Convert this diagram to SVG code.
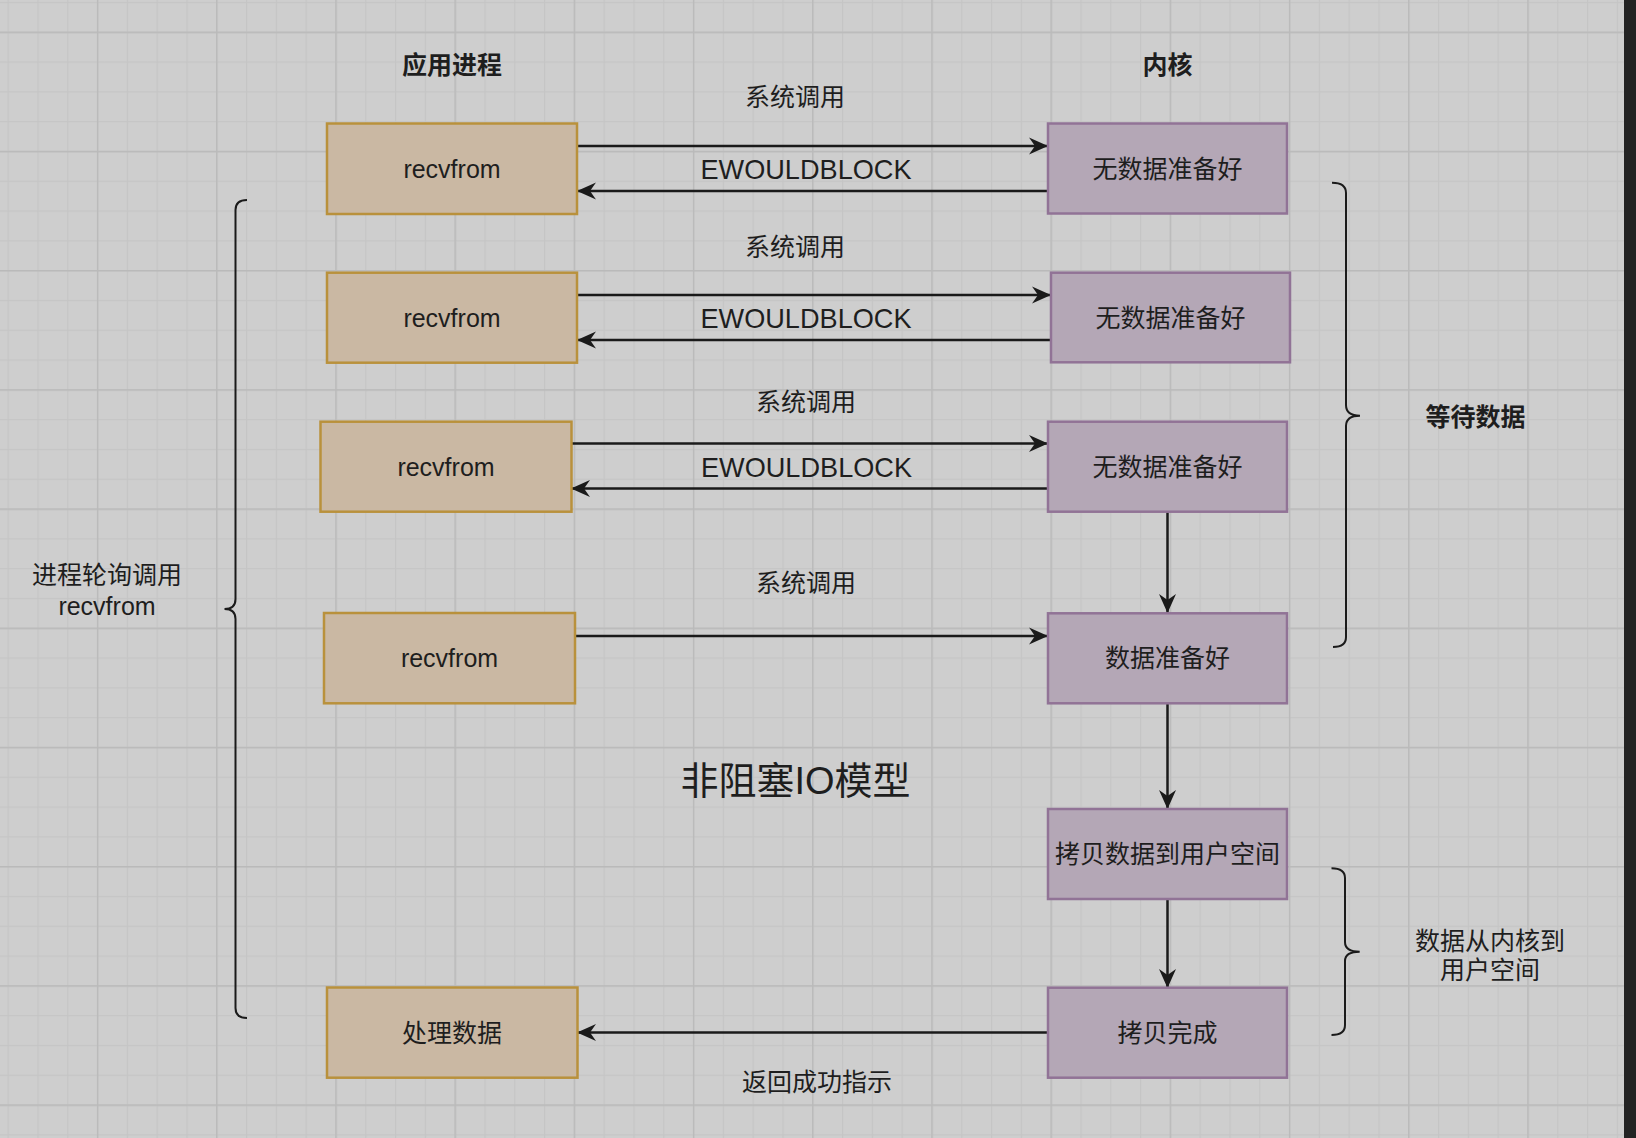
<svg xmlns="http://www.w3.org/2000/svg" width="1636" height="1138" viewBox="0 0 1636 1138">
<defs>
<pattern id="minor" width="29.8" height="29.8" patternUnits="userSpaceOnUse" x="7.6" y="1.9"><path d="M0.6,0 V29.8 M0,0.6 H29.8" stroke="#c5c5c5" stroke-width="1.2" fill="none"/></pattern>
<pattern id="major" width="119.2" height="119.2" patternUnits="userSpaceOnUse" x="96.9" y="31.6"><path d="M0.7,0 V119.2 M0,0.7 H119.2" stroke="#bababa" stroke-width="1.4" fill="none"/></pattern>
<marker id="arr" markerUnits="userSpaceOnUse" markerWidth="20" markerHeight="20" viewBox="0 0 20 20" refX="20" refY="10" orient="auto"><path d="M20,10 L1,1.5 L7,10 L1,18.5 Z" fill="#1a1a1a"/></marker>
<style>
.app rect{fill:#cab8a3;stroke:#b9913c;stroke-width:2.5}
.ker rect{fill:#b4a7b6;stroke:#917396;stroke-width:2.5}
text{font-family:"Liberation Sans","Noto Sans CJK SC",sans-serif;fill:#1e1e1e;text-anchor:middle;dominant-baseline:central}
.n{font-size:25px}
.b{font-size:25px;font-weight:bold}
.e{font-size:28px}
.t{font-size:38px}
.c line{stroke:#1a1a1a;stroke-width:2.5;marker-end:url(#arr)}
.br path{fill:none;stroke:#1a1a1a;stroke-width:2}
</style>
</defs>
<rect width="1636" height="1138" fill="#cecece"/>
<rect width="1636" height="1138" fill="url(#minor)"/>
<rect width="1636" height="1138" fill="url(#major)"/>
<rect x="1624" y="0" width="12" height="1138" fill="#232323"/>

<g id="connectors" class="c">
<line x1="577" y1="146" x2="1048" y2="146"/>
<line x1="1048" y1="191" x2="577" y2="191"/>
<line x1="577" y1="295" x2="1051" y2="295"/>
<line x1="1051" y1="340" x2="577" y2="340"/>
<line x1="571" y1="443.5" x2="1048" y2="443.5"/>
<line x1="1048" y1="488.5" x2="571" y2="488.5"/>
<line x1="575" y1="636" x2="1048" y2="636"/>
<line x1="1048" y1="1032.5" x2="577" y2="1032.5"/>
<line x1="1167.5" y1="511.7" x2="1167.5" y2="613"/>
<line x1="1167.5" y1="703.3" x2="1167.5" y2="809"/>
<line x1="1167.5" y1="899" x2="1167.5" y2="988"/>
</g>

<g id="edge-labels">
<text class="n" x="795" y="97">系统调用</text>
<text class="e" x="806" y="169" textLength="211" lengthAdjust="spacingAndGlyphs">EWOULDBLOCK</text>
<text class="n" x="795" y="246.5">系统调用</text>
<text class="e" x="806" y="318" textLength="211" lengthAdjust="spacingAndGlyphs">EWOULDBLOCK</text>
<text class="n" x="806" y="402">系统调用</text>
<text class="e" x="806.5" y="467" textLength="211" lengthAdjust="spacingAndGlyphs">EWOULDBLOCK</text>
<text class="n" x="806" y="582.5">系统调用</text>
<text class="n" x="817" y="1082">返回成功指示</text>
</g>

<g id="app1" class="app"><rect x="327" y="123.5" width="250" height="90.5"/><text class="n" x="452" y="169">recvfrom</text></g>
<g id="app2" class="app"><rect x="327" y="272.7" width="250" height="90"/><text class="n" x="452" y="318">recvfrom</text></g>
<g id="app3" class="app"><rect x="320.5" y="421.7" width="251" height="90"/><text class="n" x="446" y="467">recvfrom</text></g>
<g id="app4" class="app"><rect x="324" y="613" width="251" height="90.3"/><text class="n" x="449.5" y="658">recvfrom</text></g>
<g id="app5" class="app"><rect x="327" y="987.5" width="250.5" height="90.2"/><text class="n" x="452" y="1032.5">处理数据</text></g>

<g id="k1" class="ker"><rect x="1048" y="123.5" width="239" height="90"/><text class="n" x="1167.5" y="168.5">无数据准备好</text></g>
<g id="k2" class="ker"><rect x="1051" y="272.7" width="239" height="89.6"/><text class="n" x="1170.5" y="317.5">无数据准备好</text></g>
<g id="k3" class="ker"><rect x="1048" y="421.7" width="239" height="90"/><text class="n" x="1167.5" y="466.7">无数据准备好</text></g>
<g id="k4" class="ker"><rect x="1048" y="613.3" width="239" height="90"/><text class="n" x="1167.5" y="658.3">数据准备好</text></g>
<g id="k5" class="ker"><rect x="1048" y="809" width="239" height="90"/><text class="n" x="1167.5" y="854">拷贝数据到用户空间</text></g>
<g id="k6" class="ker"><rect x="1048" y="987.7" width="239" height="90"/><text class="n" x="1167.5" y="1032.7">拷贝完成</text></g>

<g id="braces" class="br">
<path d="M247,200 Q235.5,200 235.5,210 L235.5,599 Q235.5,609 224.5,609 Q235.5,609 235.5,619 L235.5,1008 Q235.5,1018 247,1018"/>
<path d="M1332,182.7 Q1346,182.7 1346,193 L1346,405 Q1346,415.7 1360,415.7 Q1346,415.7 1346,426 L1346,637 Q1346,647 1333,647"/>
<path d="M1331.5,868.3 Q1345,868.3 1345,878 L1345,942 Q1345,951.7 1359.7,951.7 Q1345,951.7 1345,961 L1345,1025 Q1345,1035 1331.5,1035"/>
</g>

<g id="labels">
<text class="b" x="452" y="64.5">应用进程</text>
<text class="b" x="1167.5" y="64.5">内核</text>
<text class="b" x="1475.5" y="416.5">等待数据</text>
<text class="n" x="107" y="575">进程轮询调用</text>
<text class="n" x="107" y="606">recvfrom</text>
<text class="t" x="795.5" y="781">非阻塞IO模型</text>
<text class="n" x="1490" y="941">数据从内核到</text>
<text class="n" x="1490" y="970">用户空间</text>
</g>
</svg>
